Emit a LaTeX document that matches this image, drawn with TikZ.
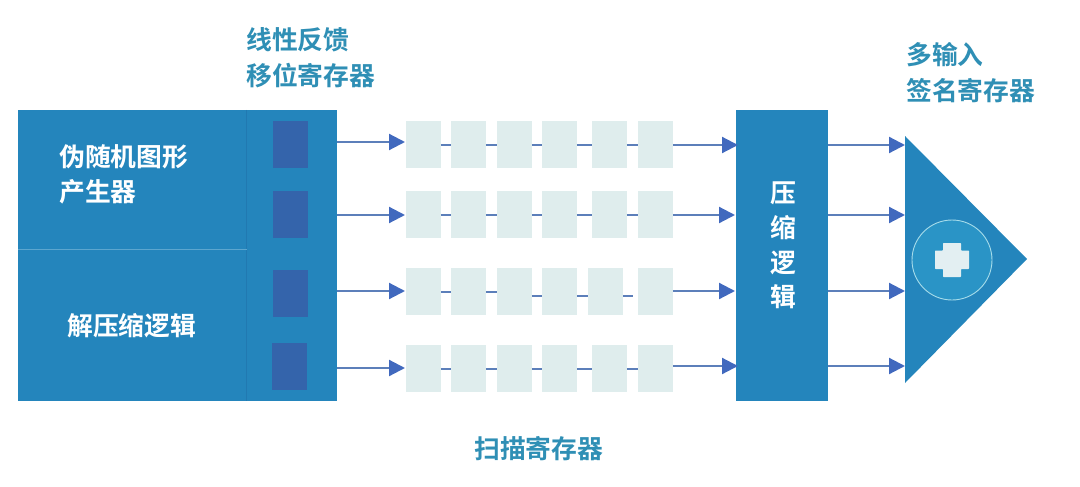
\documentclass[tikz,border=0pt]{standalone}
\usepackage{fontspec}
\setmainfont{Noto Sans CJK SC}[BoldFont={Noto Sans CJK SC Bold}]
\usetikzlibrary{arrows.meta}
\definecolor{boxblue}{HTML}{2485BC}
\definecolor{darkcell}{HTML}{3464AB}
\definecolor{scancell}{HTML}{DFEDED}
\definecolor{linkblue}{HTML}{5C7FBA}
\definecolor{tipblue}{HTML}{4169BE}
\definecolor{labelteal}{HTML}{2F8FB5}
\definecolor{circblue}{HTML}{2A94C6}
\definecolor{circline}{HTML}{A6DCEA}
\definecolor{plusfill}{HTML}{E3EFF2}
\definecolor{dividerlight}{HTML}{5CA6CF}
\definecolor{dividerdark}{HTML}{2179B1}
\tikzset{
  x=1pt,y=-1pt,
  txt/.style={inner sep=0pt,font=\fontsize{25.8}{36.5}\selectfont\bfseries,align=left},
  whitetxt/.style={txt,text=white},
  tealtxt/.style={txt,text=labelteal,anchor=west},
  bigbox/.style={fill=boxblue,inner sep=0pt,anchor=north west},
  lfsrcell/.style={fill=darkcell,inner sep=0pt,minimum width=35pt,minimum height=47pt,anchor=north west},
  scanbox/.style={fill=scancell,inner sep=0pt,minimum width=34.5pt,minimum height=47pt,anchor=north west},
  link/.style={draw=linkblue,line width=2.2pt},
  arrowline/.style={draw=linkblue,line width=2.2pt,-{Triangle[length=16pt,width=16pt,color=tipblue]}},
}
\begin{document}
\begin{tikzpicture}
\useasboundingbox (0,0) rectangle (1080,487);
% left block
\node[bigbox,minimum width=319pt,minimum height=291pt] (left) at (18,110) {};
\coordinate (vt) at (246.5,110);
\coordinate (vb) at (246.5,401);
\coordinate (hl) at (18,249);
\coordinate (hr) at (246.5,249);
\draw[dividerdark,line width=0.8pt] (vt) -- (vb);
\draw[dividerlight,line width=1pt] (hl) -- (hr);
\node[whitetxt,anchor=west,font=\fontsize{25.8}{35}\selectfont\bfseries] (prpg) at (59,174.5) {伪随机图形\\产生器};
\node[whitetxt,anchor=west] (decomp) at (67,326) {解压缩逻辑};
% LFSR cells
\node[lfsrcell] (l1) at (273,121) {};
\node[lfsrcell] (l2) at (273,191) {};
\node[lfsrcell] (l3) at (273,270) {};
\node[lfsrcell] (l4) at (272,342.5) {};
% compactor
\node[bigbox,minimum width=92pt,minimum height=291pt] (comp) at (736,110) {};
\node[whitetxt,anchor=center,align=center,font=\fontsize{25.8}{34.7}\selectfont\bfseries] (complabel) at (783,245.5) {压\\缩\\逻\\辑};
% MISR triangle
\coordinate (ta) at (905,136);
\coordinate (tb) at (1027,259);
\coordinate (tc) at (905,383);
\fill[boxblue] (ta) -- (tb) -- (tc) -- cycle;
\node[circle,fill=circblue,draw=circline,line width=0.9pt,minimum size=80pt,inner sep=0pt] (circ) at (952,260) {};
\fill[plusfill,rounded corners=0.7pt] (943,243) -- (961,243) -- (961,250.5) -- (969,250.5) -- (969,269) -- (961,269) -- (961,277) -- (943,277) -- (943,269) -- (935,269) -- (935,250.5) -- (943,250.5) -- cycle;
% scan cells
\foreach \r/\yy in {1/121,2/191,3/268,4/345}{
  \foreach \c/\xx in {1/406,2/451,3/497,4/542,5/592,6/638}{
    \ifnum\r\c=35 \def\xa{588}\else\let\xa\xx\fi
    \node[scanbox] (c\r\c) at (\xa,\yy) {};
  }
}
% links between scan cells
\foreach \r in {1,2,4}{
  \foreach \a/\b in {1/2,2/3,3/4,4/5,5/6}{
    \draw[link] (c\r\a.east) -- (c\r\b.west);
  }
}
\draw[link] (c31.east) -- (c32.west);
\draw[link] (c32.east) -- (c33.west);
\draw[link] ([yshift=-4pt]c33.east) -- ([yshift=-4pt]c34.west);
\draw[link] ([yshift=-4pt]c34.east) -- ([yshift=-4pt]c35.west);
\draw[link] ([yshift=-4pt]c35.east) -- ([xshift=-5pt,yshift=-4pt]c36.west);
% arrows: LFSR to scan chains
\foreach \r/\yy in {1/142,2/215,3/291,4/368}{
  \coordinate (s\r) at (left.east |- 0,\yy);
  \coordinate (e\r) at (405,\yy);
  \draw[arrowline] (s\r) -- (e\r);
}
% arrows: scan chains to compactor
\foreach \r/\yy/\tip in {1/145/738,2/215/735,3/291/735,4/366/738}{
  \coordinate (p\r) at (c\r6.east |- 0,\yy);
  \coordinate (q\r) at (\tip,\yy);
  \draw[arrowline] (p\r) -- (q\r);
}
% arrows: compactor to MISR
\foreach \r/\yy in {1/145,2/215,3/291,4/366}{
  \coordinate (u\r) at (comp.east |- 0,\yy);
  \coordinate (v\r) at (905,\yy);
  \draw[arrowline] (u\r) -- (v\r);
}
% outer labels
\node[tealtxt] (lfsrlabel) at (246,57.5) {线性反馈\\移位寄存器};
\node[tealtxt] (misrlabel) at (906,72.5) {多输入\\签名寄存器};
\node[tealtxt] (scanlabel) at (474,449) {扫描寄存器};
\end{tikzpicture}
\end{document}
